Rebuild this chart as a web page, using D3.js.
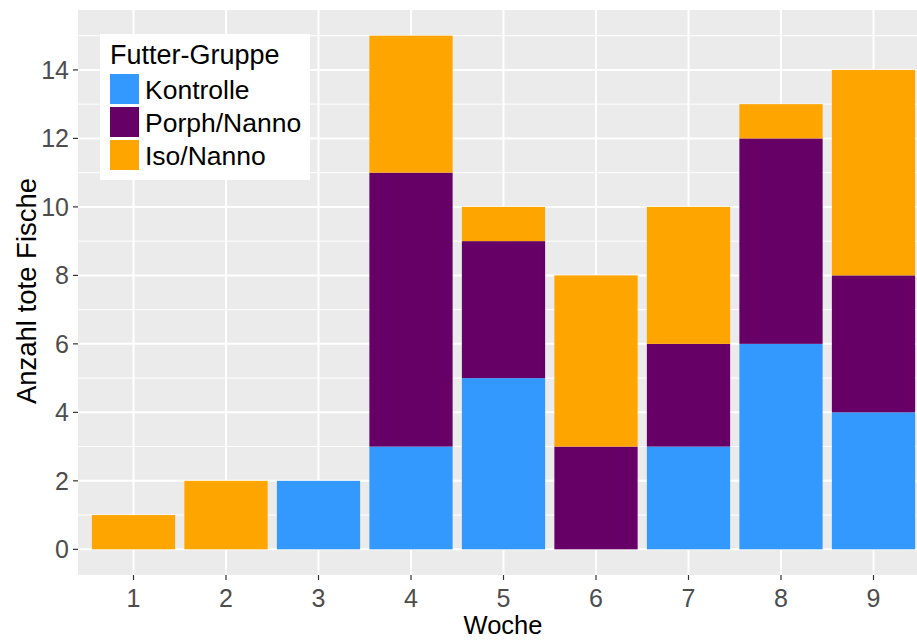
<!DOCTYPE html>
<html><head><meta charset="utf-8">
<script src="https://cdn.jsdelivr.net/npm/d3@7"></script>
<style>body{margin:0;background:#fff}svg{display:block;font-family:"Liberation Sans",Arial,sans-serif}</style>
</head><body>
<svg id="c" width="917" height="640"></svg>
<script>
const weeks = ["1","2","3","4","5","6","7","8","9"];
const groups = ["Kontrolle","Porph/Nanno","Iso/Nanno"];
const kontrolle = [0,0,2,3,5,0,3,6,4];
const porph     = [0,0,0,8,4,3,3,6,4];
const iso       = [1,2,0,4,1,5,4,1,6];
const colors = ["#3399FF","#660066","#FFA500"];
const yTicks = [0,2,4,6,8,10,12,14];
const yMinor = [1,3,5,7,9,11,13,15];

const svg = d3.select("#c");
const L=78, R=929, T=10, B=575;
const unit = (R-L)/9.2;
const xc = d3.scalePoint().domain(weeks).range([L + unit*0.6, R - unit*0.6]);
const y = d3.scaleLinear().domain([-0.75,15.75]).range([B,T]);

svg.append("rect").attr("x",L).attr("y",T).attr("width",R-L).attr("height",B-T).attr("fill","#EBEBEB");
const g = svg.append("g");
g.selectAll(".minor").data(yMinor).join("line").attr("x1",L).attr("x2",R)
 .attr("y1",d=>y(d)).attr("y2",d=>y(d)).attr("stroke","#fff").attr("stroke-width",1);
g.selectAll(".major").data(yTicks).join("line").attr("x1",L).attr("x2",R)
 .attr("y1",d=>y(d)).attr("y2",d=>y(d)).attr("stroke","#fff").attr("stroke-width",2);
g.selectAll(".vx").data(weeks).join("line").attr("y1",T).attr("y2",B)
 .attr("x1",d=>xc(d)).attr("x2",d=>xc(d)).attr("stroke","#fff").attr("stroke-width",2);

const table = weeks.map((w,i)=>({week:w,"Kontrolle":kontrolle[i],"Porph/Nanno":porph[i],"Iso/Nanno":iso[i]}));
const stack = d3.stack().keys(groups)(table);
const bw = unit*0.9;
stack.forEach((s,k)=>{
  svg.append("g").selectAll("rect").data(s.filter(d=>d[1]>d[0])).join("rect")
    .attr("x",d=>xc(d.data.week)-bw/2).attr("width",bw)
    .attr("y",d=>y(d[1])).attr("height",d=>y(d[0])-y(d[1]))
    .attr("fill",colors[k]);
});

// axes
const ya = svg.append("g");
ya.selectAll("line").data(yTicks).join("line").attr("x1",L-5).attr("x2",L)
  .attr("y1",d=>y(d)).attr("y2",d=>y(d)).attr("stroke","#333").attr("stroke-width",1.2);
ya.selectAll("text").data(yTicks).join("text").attr("x",L-9).attr("y",d=>y(d))
  .attr("dy","0.36em").attr("text-anchor","end").attr("font-size",25).attr("fill","#4D4D4D").text(d=>d);
const xa = svg.append("g");
xa.selectAll("line").data(weeks).join("line").attr("y1",B).attr("y2",B+5)
  .attr("x1",d=>xc(d)).attr("x2",d=>xc(d)).attr("stroke","#333").attr("stroke-width",1.2);
xa.selectAll("text").data(weeks).join("text").attr("x",d=>xc(d)).attr("y",607)
  .attr("text-anchor","middle").attr("font-size",25).attr("fill","#4D4D4D").text(d=>d);

svg.append("text").attr("x",503).attr("y",634).attr("text-anchor","middle")
  .attr("font-size",25.5).attr("fill","#000").text("Woche");
svg.append("text").attr("transform",`translate(36,291) rotate(-90)`).attr("text-anchor","middle")
  .attr("font-size",27.5).attr("fill","#000").text("Anzahl tote Fische");

// legend
const lg = svg.append("g");
lg.append("rect").attr("x",100).attr("y",34).attr("width",210).attr("height",146).attr("fill","#fff");
lg.append("text").attr("x",110).attr("y",64).attr("font-size",27).attr("fill","#000").text("Futter-Gruppe");
groups.forEach((gname,i)=>{
  lg.append("rect").attr("x",110).attr("y",74+i*33).attr("width",29).attr("height",30).attr("fill",colors[i]);
  lg.append("text").attr("x",145).attr("y",74+i*33+25).attr("font-size",26.5).attr("fill","#000").text(gname);
});
</script>
</body></html>
